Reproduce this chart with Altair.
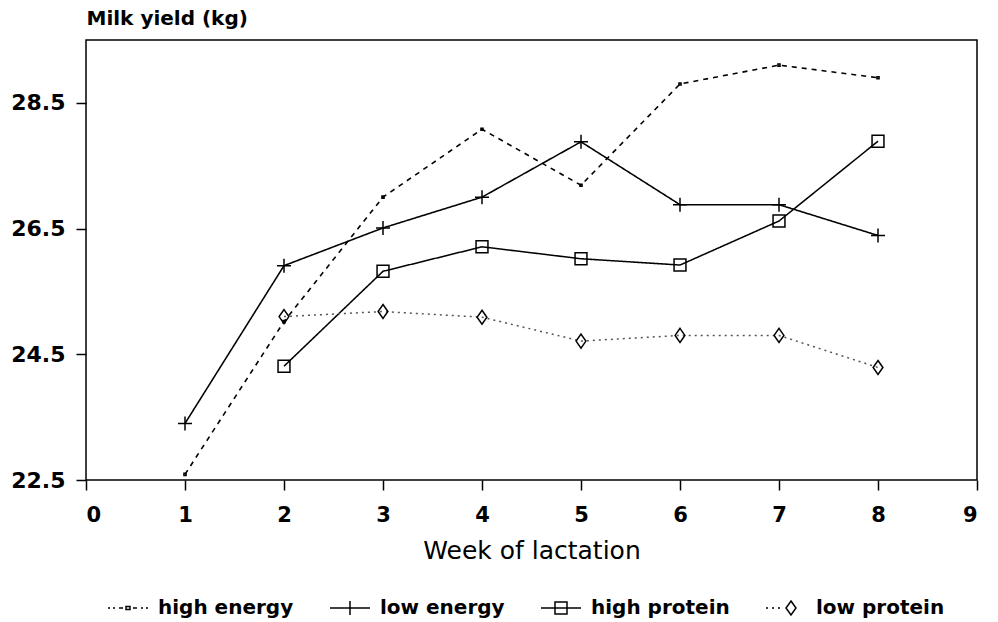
import altair as alt
import pandas as pd

weeks_he = [1, 2, 3, 4, 5, 6, 7, 8]
high_energy = [22.59, 25.02, 27.0, 28.08, 27.19, 28.8, 29.1, 28.9]
weeks_le = [1, 2, 3, 4, 5, 6, 7, 8]
low_energy = [23.4, 25.91, 26.51, 27.0, 27.88, 26.88, 26.88, 26.39]
weeks_hp = [2, 3, 4, 5, 6, 7, 8]
high_protein = [24.31, 25.82, 26.21, 26.02, 25.92, 26.62, 27.89]
weeks_lp = [2, 3, 4, 5, 6, 7, 8]
low_protein = [25.1, 25.18, 25.09, 24.71, 24.8, 24.8, 24.29]

series = ["high energy", "low energy", "high protein", "low protein"]
y_ticks = [22.5, 24.5, 26.5, 28.5]
x_ticks = list(range(0, 10))

rows = []
for name, wk, vals in [
    ("high energy", weeks_he, high_energy),
    ("low energy", weeks_le, low_energy),
    ("high protein", weeks_hp, high_protein),
    ("low protein", weeks_lp, low_protein),
]:
    for w, v in zip(wk, vals):
        rows.append({"series": name, "week": w, "milk": v})
df = pd.DataFrame(rows)

FONT = "DejaVu Sans"

x = alt.X("week:Q", scale=alt.Scale(domain=[0, 9], nice=False),
          axis=alt.Axis(values=x_ticks, format="d", title="Week of lactation",
                        titleFont=FONT, titleFontSize=25, titleFontWeight="normal",
                        titleColor="black", titleY=70, titleBaseline="middle",
                        labelFont=FONT, labelFontSize=21, labelFontWeight="bold",
                        labelColor="black", labelPadding=14, labelBaseline="top"))
y = alt.Y("milk:Q", scale=alt.Scale(domain=[22.5, 29.5], nice=False, zero=False),
          axis=alt.Axis(values=y_ticks, format=".1f", title="Milk yield (kg)",
                        titleFont=FONT, titleFontSize=20, titleFontWeight="bold",
                        titleColor="black", titleAngle=0, titleAlign="left",
                        titleX=0, titleY=-22, titleBaseline="middle",
                        labelFont=FONT, labelFontSize=22, labelFontWeight="bold",
                        labelColor="black", labelPadding=11))

lines = alt.Chart(df).mark_line(clip=True).encode(
    x=x, y=y,
    order="week:Q",
    strokeDash=alt.StrokeDash("series:N", scale=alt.Scale(
        domain=series, range=[[5, 5], [1, 0], [1, 0], [2, 4]]), legend=None),
    strokeWidth=alt.StrokeWidth("series:N", scale=alt.Scale(
        domain=series, range=[1.6, 1.5, 1.5, 1.1]), legend=None),
    color=alt.Color("series:N", scale=alt.Scale(
        domain=series, range=["black", "black", "black", "#555555"]), legend=None),
)

marker_paths = [
    "M-0.15,-0.15H0.15V0.15H-0.15Z",
    "M-1,0H1M0,-1V1",
    "M-0.85,-0.85H0.85V0.85H-0.85Z",
    "M0,-1L0.7,0L0,1L-0.7,0Z",
]
points = alt.Chart(df).mark_point(filled=False, color="black", strokeWidth=1.5,
                                  size=196, opacity=1).encode(
    x=x, y=y,
    shape=alt.Shape("series:N", scale=alt.Scale(domain=series, range=marker_paths),
                    legend=None),
)

legend_paths = [
    "M-1,0H-0.9M-0.75,0H-0.65M-0.45,0H-0.25M-0.1,-0.08H0.1V0.08H-0.1ZM0.25,0H0.45M0.65,0H0.75M0.9,0H1",
    "M-1,0H1M0,-0.35V0.35",
    "M-1,0H1M-0.3,-0.3H0.3V0.3H-0.3Z",
    "M-1,0H-0.9M-0.7,0H-0.6M-0.4,0H-0.3M0.25,-0.35L0.5,0L0.25,0.35L0,0Z",
]
legend_layer = alt.Chart(df).transform_filter("false").mark_point(
    filled=False, color="black", strokeWidth=1.5, size=1600, opacity=1).encode(
    x=x, y=y,
    shape=alt.Shape("series:N", scale=alt.Scale(domain=series, range=legend_paths),
                    legend=alt.Legend(title=None, orient="none", direction="horizontal",
                                      legendX=21, legendY=547, symbolSize=1600,
                                      symbolStrokeColor="black", symbolStrokeWidth=1.5,
                                      symbolFillColor="transparent",
                                      labelFont=FONT, labelFontSize=20,
                                      labelFontWeight="bold", labelColor="black",
                                      labelOffset=9, columnPadding=33, padding=0,
                                      labelLimit=400)),
)

chart = alt.layer(lines, points, legend_layer).resolve_scale(
    shape="independent"
).properties(
    width=891, height=440,
    autosize=alt.AutoSizeParams(type="none"),
    padding={"left": 86, "top": 40, "right": 21, "bottom": 142},
    background="white",
).configure_view(
    stroke="black", strokeWidth=1.5
).configure_axis(
    grid=False, domain=False, ticks=True, tickColor="black", tickSize=10,
    tickWidth=1.5,
)

chart.save("out.html", embed_options={"renderer": "svg", "actions": False})
